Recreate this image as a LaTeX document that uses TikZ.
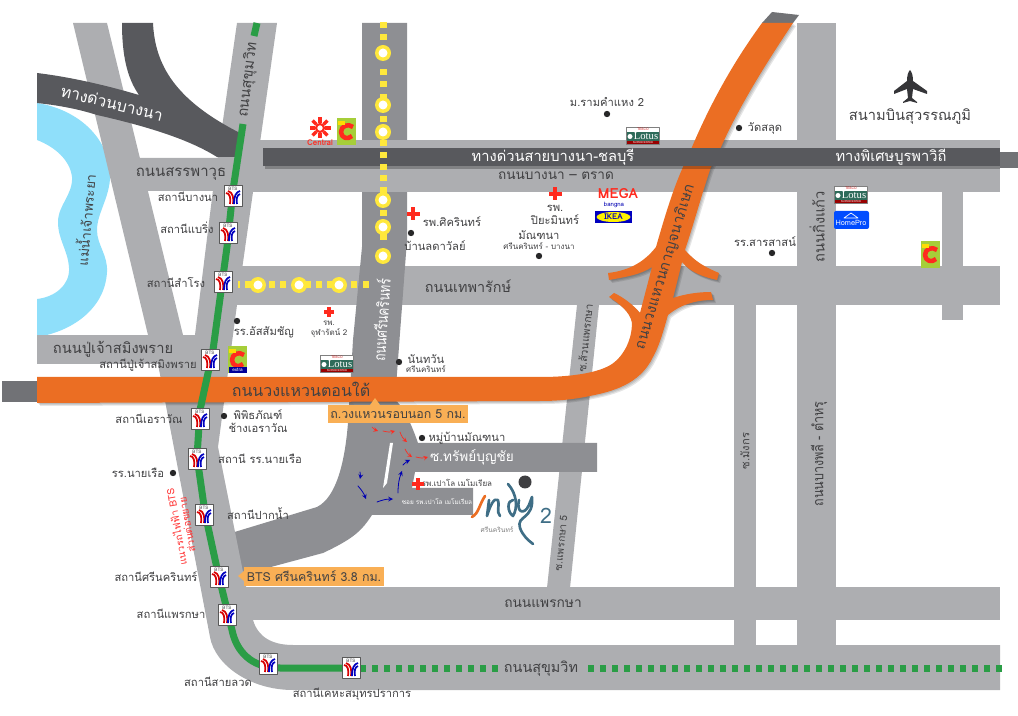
\documentclass[tikz,border=0pt]{standalone}
\usepackage{fontspec}
\setmainfont[Script=Thai]{Loma}
\newfontfamily\logoserif{Liberation Serif}
\definecolor{roadgrey}{HTML}{ADAEB1}
\definecolor{srigrey}{HTML}{8E8F93}
\definecolor{tollgrey}{HTML}{58595D}
\definecolor{ringorange}{HTML}{EB6E23}
\definecolor{tagorange}{HTML}{F9AF55}
\definecolor{riverblue}{HTML}{8FDFFA}
\definecolor{btsgreen}{HTML}{2A9D46}
\definecolor{lineyellow}{HTML}{FFE83C}
\definecolor{inktext}{HTML}{414143}
\definecolor{indyteal}{HTML}{3F6E86}
\definecolor{limec}{HTML}{A6CE39}
\definecolor{lotusgreen}{HTML}{2E6B5A}
\definecolor{crossred}{HTML}{FF2A1E}
\tikzset{
	roadtext/.style={text=inktext, inner sep=0pt, font=\fontsize{11}{13}\selectfont},
	stationtext/.style={text=inktext, inner sep=0pt, font=\fontsize{8.4}{10}\selectfont},
	tinytext/.style={text=inktext, inner sep=0pt, font=\fontsize{6}{7}\selectfont},
	tagtext/.style={fill=tagorange, text=inktext, inner sep=0pt, font=\fontsize{9.3}{11}\selectfont},
	whitetext/.style={roadtext, text=white},
	btsicon/.pic={
		\draw[gray!70!black, fill=white, line width=.6pt] (-9,-10.5) rectangle (9,10.5);
		\node[inner sep=0pt, text=inktext, font=\fontsize{3.5}{4}\selectfont] (btstag) at (0,-7) {BTS};
		\draw[red!85!black, line width=1.3pt, line cap=butt] (-7,-3) .. controls (-3,-3) and (-2,3) .. (-3,8);
		\draw[red!85!black, line width=1.3pt, line cap=butt] (-5,-5) .. controls (0,-4) and (1,3) .. (0,8);
		\draw[blue!75!black, line width=1.3pt, line cap=butt] (7,-5) .. controls (3,-4) and (1,0) .. (1,8);
		\draw[blue!75!black, line width=1.3pt, line cap=butt] (7,-2) .. controls (4,-1) and (3,3) .. (4,8);
	},
	lotuslogo/.pic={
		\draw[gray, fill=white, line width=.5pt] (-16.5,-8.5) rectangle (16.5,8.5);
		\fill[lotusgreen] (-16,-4) rectangle (16,5);
		\fill[red!60!black] (-16,5) rectangle (16,8);
		\fill[white] (-13,0.5) circle (2.5);
		\node[inner sep=0pt, text=red!80!black, font=\fontsize{2.5}{3}\selectfont] (lotustop) at (0,-6.2) {TESCO};
		\node[inner sep=0pt, text=white, font=\logoserif\fontsize{8}{8}\selectfont] (lotusname) at (3,0.5) {Lotus};
		\node[inner sep=0pt, text=white, font=\fontsize{2}{2.5}\selectfont] (lotusbase) at (0,6.6) {SUPERCENTER};
	},
	bigc/.pic={
		\fill[limec] (-9.5,-13.5) rectangle (9.5,13.5);
		\draw[crossred, line width=3.4pt, line cap=butt] (7,-5) .. controls (2,-9) and (-5,-6) .. (-5,0) .. controls (-5,6) and (2,8) .. (6,4);
		\fill[yellow!80!orange] (-8,-11) rectangle (-1,-7);
	},
	redcross/.pic={
		\fill[crossred] (-6.5,-2) rectangle (6.5,2);
		\fill[crossred] (-2,-6.5) rectangle (2,6.5);
	},
}
\begin{document}
\begin{tikzpicture}[x=0.75pt, y=-0.75pt, line join=round, line cap=round, >=stealth]
	\useasboundingbox (0,0) rectangle (1018,716);
	\def\ringpath{(37,377) -- (540,377) .. controls (575,377) and (600,372) .. (612,364) .. controls (625,355) and (632,338) .. (632,323) .. controls (630,312) and (620,304) .. (609,297) -- (614,293) .. controls (625,298) and (634,306) .. (640,313) -- (652,267) .. controls (640,275) and (625,277) .. (609,280) -- (608,273) .. controls (625,271) and (642,265) .. (656,247) .. controls (668,205) and (675,185) .. (683,167) -- (692,147) .. controls (712,100) and (735,60) .. (762,23) -- (793,23) .. controls (765,65) and (740,105) .. (721,147) -- (711,167) .. controls (703,190) and (695,220) .. (685,250) .. controls (695,262) and (707,268) .. (719,273) -- (717,280) .. controls (703,277) and (690,272) .. (682,262) -- (673,298) .. controls (685,294) and (698,292) .. (711,292) -- (713,300) .. controls (695,300) and (680,305) .. (668,315) .. controls (665,325) and (660,345) .. (653,357) .. controls (640,385) and (610,392) .. (590,396) .. controls (570,400) and (555,401) .. (540,401) -- (37,403) -- cycle}
	% river
	\fill[riverblue] (37,103) .. controls (70,108) and (105,130) .. (110,170) .. controls (112,195) and (97,212) .. (97,230) .. controls (97,245) and (108,255) .. (107,272) .. controls (105,310) and (70,332) .. (37,337) -- (37,299) .. controls (55,297) and (70,285) .. (69,268) .. controls (68,250) and (58,240) .. (58,222) .. controls (58,205) and (73,195) .. (72,177) .. controls (70,160) and (55,147) .. (37,140) -- cycle;
	% light roads
	\fill[roadgrey] (73,23) -- (107,23) -- (183,335) -- (148,335) -- cycle;
	\fill[roadgrey] (138,158) -- (233,158) -- (220,191) -- (148,191) -- (120,191) -- (110,158) -- cycle;
	\fill[roadgrey] (37,335) rectangle (205,364);
	\fill[roadgrey] (577,305) -- (599,305) -- (570,588) -- (547,588) -- cycle;
	\fill[roadgrey] (225,266) rectangle (1000,305);
	\fill[roadgrey] (225,587) rectangle (1000,620);
	\fill[roadgrey] (734,305) rectangle (756,645);
	\fill[roadgrey] (797,23) rectangle (836,690);
	\fill[roadgrey] (942,192) rectangle (963,320);
	% srinakarin and the two soi
	\fill[srigrey] (362,23) -- (407,23) -- (407,240) -- (395,400) .. controls (402,405) and (410,420) .. (418,443) -- (597,443) -- (597,472) -- (415,472) -- (412,488) -- (473,488) -- (473,515) -- (372,515) .. controls (362,530) and (355,538) .. (323,553) -- (230,578) -- (228,534) -- (317,507) .. controls (337,497) and (345,460) .. (348,423) -- (353,340) -- (362,247) -- cycle;
	\fill[white] (390,443) -- (393,443) -- (387,483) -- (383,488) -- cycle;
	\fill[roadgrey] (237,23) -- (277,23) -- (253,192) -- (237,305) -- (218,447) -- (242,567) -- (253,620) .. controls (258,637) and (272,645) .. (293,645) -- (1000,645) -- (1000,690) -- (293,690) .. controls (250,690) and (215,665) .. (210,637) -- (158,364) -- (195,335) -- (213,190) -- cycle;
	\fill[roadgrey] (250,140) rectangle (1000,192);
	% ring road with its soft edge
	\fill[srigrey!80!black] (2,381) rectangle (37,402);
	\fill[tollgrey!85!white] (772,12) -- (799,15) -- (793,23) -- (762,23) -- cycle;
	\foreach \s in {1,2,3}
		\fill[black, opacity=.1, shift={(\s,\s)}] \ringpath;
	\fill[ringorange] \ringpath;
	% expressways
	\fill[tollgrey] (37,73) .. controls (70,77) and (105,85) .. (139,95) .. controls (127,78) and (122,55) .. (122,23) -- (153,23) .. controls (155,65) and (175,100) .. (240,133) -- (235,157) -- (217,157) .. controls (190,140) and (150,127) .. (97,115) .. controls (75,108) and (55,105) .. (37,103) -- cycle;
	\fill[black, opacity=.25] (265,166) rectangle (1000,169);
	\fill[tollgrey] (263,148) rectangle (1000,166);
	\fill[tollgrey!85!white] (1000,152) rectangle (1018,168);
	% bts line
	\draw[btsgreen, line width=5.25pt, line cap=butt] (257,23) -- (254,36);
	\draw[btsgreen, line width=5.25pt, line cap=butt] (243,124) -- (233,190) -- (227,247) -- (213,350) -- (200,410) -- (197,457) -- (205,513) -- (218,573) -- (232,630) .. controls (236,650) and (250,668) .. (280,668) -- (350,668);
	\foreach \x in {363,375,...,495,591,603,...,1000}
		\fill[btsgreen] (\x-3,664.5) rectangle (\x+3,671.5);
	% yellow line
	\foreach \y in {25,37,72,84,97,119,143,155,167,178,190,213,237}
		\fill[lineyellow] (379.5,\y-3) rectangle (386.5,\y+3);
	\foreach \x in {248,272,283,308,319,330,354,366}
		\fill[lineyellow] (\x-3,281.5) rectangle (\x+3,288.5);
	\fill[lineyellow] (238,281.5) rectangle (240,288.5);
	\foreach \x/\y in {383/53,383/105,383/132,383/200,383/227,383/256,258/285,299/285,339/285} {
		\fill[lineyellow] (\x,\y) circle (8);
		\fill[white] (\x,\y) circle (4.5);
	}
	% stations
	\foreach \x/\y in {233/196,228/233,223/282,210/360,200/419,197/459,204/515,219/577,227/615,268/664,351/668}
		\pic at (\x,\y) {btsicon};
	% road names
	\node[whitetext, rotate=-14, font=\fontsize{12}{14}\selectfont] (tollwest) at (112,103) {ทางด่วนบางนา};
	\node[roadtext, rotate=83] (sukhumvitnorth) at (248,80) {ถนนสุขุมวิท};
	\node[roadtext, rotate=85, font=\fontsize{10}{12}\selectfont] (riverlabel) at (85,220) {แม่น้ำเจ้าพระยา};
	\node[roadtext, font=\fontsize{11.2}{13}\selectfont] (sanphawut) at (181,174) {ถนนสรรพาวุธ};
	\node[roadtext] (poochao) at (113,349) {ถนนปู่เจ้าสมิงพราย};
	\node[whitetext] (tollmain) at (553,157) {ทางด่วนสายบางนา-ชลบุรี};
	\node[whitetext] (burapha) at (891,157) {ทางพิเศษบูรพาวิถี};
	\node[roadtext, font=\fontsize{10.2}{12}\selectfont] (bangnatrat) at (556,176) {ถนนบางนา – ตราด};
	\node[roadtext, font=\fontsize{10.8}{13}\selectfont] (theparak) at (468,286) {ถนนเทพารักษ์};
	\node[roadtext, rotate=73] (kanchana) at (665,267) {ถนนวงแหวนกาญจนาภิเษก};
	\node[roadtext, rotate=90] (kingkaew) at (817,227) {ถนนกิ่งแก้ว};
	\node[roadtext, rotate=90, xscale=.86, transform shape] (bangphli) at (819,454) {ถนนบางพลี - ตำหรุ};
	\node[whitetext, rotate=86, xscale=.75, transform shape, font=\fontsize{12}{14}\selectfont] (srinakarin) at (381,320) {ถนนศรีนครินทร์};
	\node[roadtext, font=\fontsize{12}{14}\selectfont] (ringsouth) at (301,389) {ถนนวงแหวนตอนใต้};
	\node[roadtext, font=\fontsize{10.3}{12}\selectfont] (phraeksa) at (543,604) {ถนนแพรกษา};
	\node[roadtext, font=\fontsize{10.8}{13}\selectfont] (sukhumvitsouth) at (541,669) {ถนนสุขุมวิท};
	\node[stationtext, rotate=84, font=\fontsize{8}{10}\selectfont] (soisuan) at (585,338) {ซ.ส้วนแพรกษา};
	\node[stationtext, rotate=84, font=\fontsize{7.6}{9}\selectfont] (soi5) at (561,543) {ซ.แพรกษา 5};
	\node[stationtext, rotate=90] (soimangkon) at (745,451) {ซ.มังกร};
	\node[whitetext, font=\fontsize{10.2}{12}\selectfont] (soisap) at (472,457) {ซ.ทรัพย์บุญชัย};
	\node[tinytext, text=white, font=\fontsize{4.8}{6}\selectfont] (soipaolo) at (437,502) {ซอย รพ.เปาโล เมโมเรียล};
	% station names
	\node[stationtext] (stbangna) at (188,197) {สถานีบางนา};
	\node[stationtext] (stbearing) at (187,228) {สถานีแบริ่ง};
	\node[stationtext] (stsamrong) at (176,282) {สถานีสำโรง};
	\node[stationtext] (stpoochao) at (148,365) {สถานีปู่เจ้าสมิงพราย};
	\node[stationtext] (sterawan) at (149,419) {สถานีเอราวัณ};
	\node[stationtext] (stnavy) at (260,459) {สถานี รร.นายเรือ};
	\node[stationtext] (stpaknam) at (258,514) {สถานีปากน้ำ};
	\node[stationtext] (stsrinakarin) at (156,577) {สถานีศรีนครินทร์};
	\node[stationtext] (stphraeksa) at (171,614) {สถานีแพรกษา};
	\node[stationtext] (stsailuat) at (218,682) {สถานีสายลวด};
	\node[stationtext] (stkheha) at (352,694) {สถานีเคหะสมุทรปราการ};
	% places
	\node[stationtext] (navyschool) at (138,473) {รร.นายเรือ};
	\node[stationtext] (museum) at (258,415) {พิพิธภัณฑ์};
	\node[stationtext] (elephant) at (258,428) {ช้างเอราวัณ};
	\node[stationtext] (assum) at (264,332) {รร.อัสสัมชัญ};
	\node[tinytext] (chularat) at (329,323) {รพ.};
	\node[tinytext] (chularattwo) at (329,333) {จุฬารัตน์ 2};
	\node[stationtext] (nantawan) at (426,359) {นันทวัน};
	\node[tinytext] (nantawansub) at (426,369) {ศรีนครินทร์};
	\node[stationtext] (siriken) at (452,222) {รพ.ศิครินทร์};
	\node[stationtext] (ladawan) at (435,246) {บ้านลดาวัลย์};
	\node[stationtext] (piya) at (555,208) {รพ.};
	\node[stationtext] (piyamin) at (555,220) {ปิยะมินทร์};
	\node[stationtext] (mantana) at (539,235) {มัณฑนา};
	\node[tinytext] (mantanasub) at (539,246) {ศรีนครินทร์ - บางนา};
	\node[stationtext] (ram) at (607,102) {ม.รามคำแหง 2};
	\node[stationtext] (salud) at (765,128) {วัดสลุด};
	\node[stationtext] (sarasas) at (765,242) {รร.สารสาสน์};
	\node[roadtext] (airport) at (910,117) {สนามบินสุวรรณภูมิ};
	\node[stationtext] (mubaan) at (467,438) {หมู่บ้านมัณฑนา};
	\node[tinytext] (paolo) at (457,483) {รพ.เปาโล เมโมเรียล};
	\node[stationtext, text=red!80, rotate=100, font=\fontsize{7.5}{9}\selectfont] (btsnote) at (176,527) {แนวรถไฟฟ้า BTS};
	\node[stationtext, text=red!80, rotate=100, font=\fontsize{7.5}{9}\selectfont] (btsnotetwo) at (187,525) {ส่วนต่อขยาย};
	% tags
	\fill[tagorange] (244,571) -- (238,576) -- (244,581) -- cycle;
	\node[tagtext, minimum width=105pt, minimum height=14.25pt] (tagbts) at (314,576.5) {BTS ศรีนครินทร์ 3.8 กม.};
	\fill[tagorange] (370,405) -- (375,398) -- (380,405) -- cycle;
	\node[tagtext, minimum width=105pt, minimum height=13.5pt] (tagring) at (398,414) {ถ.วงแหวนรอบนอก 5 กม.};
	% dots
	\foreach \x/\y in {224/416,173/473,237/321,399/362,411/233,539/256,607/114,739/128,772/253,422/438}
		\fill[inktext!60!black] (\x,\y) circle (3.2);
	% crosses
	\foreach \x/\y/\s in {413/214/1,555/194/1,329/312/.8,418/484/.85}
		\pic[scale=\s] at (\x,\y) {redcross};
	% arrows to the site
	\foreach \a/\b/\c/\d in {372/427/378/431,383/431/395/431,400/432/407/442,405/449/412/457,416/457/428/457}
		\draw[->, crossred, line width=.5pt] (\a,\b) to[bend right=15] (\c,\d);
	\foreach \a/\b/\c/\d in {360/472/360/479,358/486/366/499,377/502/393/499,398/493/402/471,403/465/410/460}
		\draw[->, blue!70!black, line width=.6pt] (\a,\b) to[bend left=10] (\c,\d);
	% indy 2
	\fill[tollgrey!70!black] (525,482) circle (6.5);
	\draw[ringorange, line width=2pt] (485,496) .. controls (479,505) and (479,513) .. (472,517);
	\draw[indyteal, line width=2pt] (489,500) -- (487,516) .. controls (490,506) and (494,497) .. (498,500) .. controls (500,505) and (496,512) .. (500,516);
	\draw[indyteal, line width=2pt] (508,484) .. controls (517,494) and (518,508) .. (513,516) .. controls (507,512) and (507,500) .. (513,500);
	\draw[indyteal, line width=2pt] (519,500) .. controls (516,512) and (524,516) .. (529,505) -- (532,497) .. controls (534,520) and (516,515) .. (520,528) .. controls (523,536) and (528,540) .. (533,544);
	\node[inner sep=0pt, text=indyteal, font=\fontsize{16}{18}\selectfont] (indytwo) at (546,516) {2};
	\node[tinytext, text=gray, font=\fontsize{5}{6}\selectfont] (indysub) at (497,530) {ศรีนครินทร์};
	% logos
	\pic at (643,136) {lotuslogo};
	\pic at (851,195) {lotuslogo};
	\pic at (337,364) {lotuslogo};
	\pic at (346,132) {bigc};
	\pic at (930,255) {bigc};
	\pic at (237,360) {bigc};
	\fill[blue!60!black] (228.5,367) rectangle (246.5,373);
	\node[inner sep=0pt, text=white, font=\fontsize{3.5}{4}\selectfont] (bigcextra) at (237.5,370) {extra};
	% central
	\foreach \r in {0,45,...,315}
		\draw[crossred, line width=2.4pt, line cap=butt] (320,128)++(\r:5) -- ++(\r:5.5);
	\draw[crossred, line width=1.6pt] (320,128) circle (4);
	\node[inner sep=0pt, text=crossred, font=\fontsize{6}{7}\selectfont\bfseries] (central) at (320,143) {Central};
	% mega, ikea, homepro
	\node[inner sep=0pt, text=crossred, font=\fontsize{10.5}{12}\selectfont\bfseries] (mega) at (618,194) {MEGA};
	\node[inner sep=0pt, text=blue!70!black, font=\fontsize{4.5}{5}\selectfont] (megasub) at (614,205) {bangna};
	\fill[blue!75!black] (595,211) rectangle (632,223);
	\fill[yellow] (613.5,217) ellipse (17 and 5);
	\node[inner sep=0pt, text=blue!75!black, font=\fontsize{6}{6}\selectfont\bfseries] (ikea) at (613.5,217) {IKEA};
	\fill[blue!70!cyan, rounded corners=1.5pt] (834,211) rectangle (869,229);
	\node[inner sep=0pt, text=white, font=\fontsize{5.5}{6}\selectfont] (homepro) at (851,223) {HomePro};
	\draw[white, line width=.5pt] (844,218) -- (851,213) -- (858,218) -- cycle;
	% plane
	\fill[tollgrey!60!black] (910,70) .. controls (912,72) and (913,76) .. (913,81) -- (927,91) -- (927,94) -- (913,89) -- (912,98) -- (917,102) -- (917,103) -- (910,101) -- (903,103) -- (903,102) -- (908,98) -- (907,89) -- (894,94) -- (894,91) -- (907,81) .. controls (907,76) and (908,72) .. (910,70) -- cycle;
\end{tikzpicture}
\end{document}
